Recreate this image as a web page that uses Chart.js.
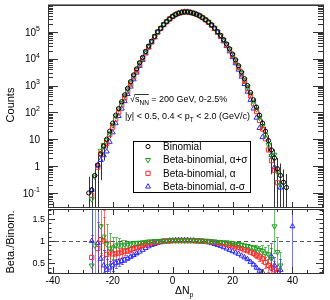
<!DOCTYPE html>
<html>
<head>
<meta charset="utf-8">
<script src="https://cdn.jsdelivr.net/npm/chart.js@4/dist/chart.umd.min.js"></script>
<style>
  html, body { margin: 0; padding: 0; background: #fff; }
  #wrap { position: relative; width: 330px; height: 300px; }
  canvas { position: absolute; left: 0; }
  #topChart { top: 0; }
  #ratioChart { top: 204px; }
</style>
</head>
<body>
<div id="wrap">
  <canvas id="topChart" width="330" height="212"></canvas>
  <canvas id="ratioChart" width="330" height="96"></canvas>
</div>
<script>
// Delta N_p bins
const nVals = [
  -28, -27, -26, -25, -24, -23, -22, -21, -20, -19,
  -18, -17, -16, -15, -14, -13, -12, -11, -10, -9,
  -8, -7, -6, -5, -4, -3, -2, -1, 0, 1,
  2, 3, 4, 5, 6, 7, 8, 9, 10, 11,
  12, 13, 14, 15, 16, 17, 18, 19, 20, 21,
  22, 23, 24, 25, 26, 27, 28, 29, 30, 31,
  32, 33, 34, 35, 36, 37, 38, 39, 40
];

// Binomial counts and their errors
const binomCounts = [
  0.1, 0.13, 0.45, 1.1, 2.8, 5.6, 10, 20, 40, 79,
  140, 250, 450, 790, 1400, 2500, 4200, 7100, 11200, 18600,
  29500, 44700, 67600, 100000, 135000, 186000, 240000, 302000, 372000, 437000,
  490000, 525000, 550000, 550000, 525000, 490000, 447000, 398000, 339000, 282000,
  229000, 182000, 138000, 102000, 74000, 51300, 35500, 23400, 14800, 9100,
  5500, 3200, 1800, 1000, 550, 295, 158, 79, 40, 20,
  8.9, 4.0, 2.0, 0.8, 0.45, 0.25, 0.16, null, null
];
const binomErr = [
  0.3, 0.35, 0.8, 1.5, 2.5, 4, 5.5, 9, 14, 20,
  28, 35, 45, 60, 0, 0, 0, 0, 0, 0,
  0, 0, 0, 0, 0, 0, 0, 0, 0, 0,
  0, 0, 0, 0, 0, 0, 0, 0, 0, 0,
  0, 0, 0, 0, 0, 0, 0, 0, 0, 0,
  0, 0, 0, 0, 0, 35, 28, 20, 14, 9,
  5.5, 3.5, 2.2, 1.2, 0.8, 0.5, 0.35, null, null
];

// Beta-binomial / Binomial ratios
const ratioPlus = [
  null, 0.45, 0.9, null, 1.33, 1.1, 0.93, 0.83, 0.85, 0.9,
  0.92, 0.9, 0.92, 0.92, 0.93, 0.95, 0.96, 0.96, 0.97, 0.98,
  0.99, 0.99, 1.0, 1.0, 1.0, 1.0, 1.0, 1.01, 1.01, 1.01,
  1.01, 1.01, 1.01, 1.01, 1.01, 1.01, 1.01, 1.0, 1.0, 1.0,
  1.0, 0.99, 0.99, 0.98, 0.98, 0.97, 0.97, 0.96, 0.95, 0.94,
  0.93, 0.92, 0.9, 0.89, 0.87, 0.85, 0.83, 0.8, 0.78, 0.72,
  0.7, 0.6, 1.33, 0.75, 0.45, null, null, null, null
];
const errPlus = [
  0, 1.5, 1.5, 0, 0.6, 0.45, 0.45, 0.35, 0.25, 0.2,
  0.15, 0.12, 0.1, 0.08, 0.06, 0.05, 0.04, 0.03, 0.02, 0.015,
  0, 0, 0, 0, 0, 0, 0, 0, 0, 0,
  0, 0, 0, 0, 0, 0, 0, 0, 0, 0,
  0, 0, 0, 0, 0, 0, 0, 0.01, 0.012, 0.015,
  0.02, 0.025, 0.03, 0.035, 0.045, 0.055, 0.07, 0.09, 0.12, 0.15,
  0.2, 0.25, 0.6, 0.35, 0.3, 0, 0, 0, 0
];
const ratioAlpha = [
  null, 0.63, null, 0.83, 1.03, 1.0, 0.7, 0.75, 0.71, 0.71,
  0.73, 0.75, 0.77, 0.78, 0.81, 0.83, 0.85, 0.88, 0.9, 0.92,
  0.94, 0.96, 0.97, 0.98, 0.99, 1.0, 1.0, 1.0, 1.01, 1.01,
  1.01, 1.01, 1.01, 1.01, 1.01, 1.01, 1.0, 1.0, 1.0, 0.99,
  0.99, 0.98, 0.97, 0.96, 0.95, 0.94, 0.92, 0.91, 0.89, 0.87,
  0.85, 0.83, 0.8, 0.78, 0.75, 0.72, 0.68, 0.64, 0.6, 0.52,
  0.45, 0.4, 0.35, 0.3, null, null, null, null, null
];
const errAlpha = [
  0, 0.5, 0, 0.6, 0.35, 0.7, 0.3, 0.25, 0.2, 0.15,
  0.12, 0.1, 0.08, 0.06, 0.05, 0.04, 0.03, 0.02, 0.015, 0,
  0, 0, 0, 0, 0, 0, 0, 0, 0, 0,
  0, 0, 0, 0, 0, 0, 0, 0, 0, 0,
  0, 0, 0, 0, 0, 0, 0, 0.01, 0.012, 0.015,
  0.02, 0.025, 0.03, 0.035, 0.04, 0.05, 0.06, 0.08, 0.1, 0.12,
  0.15, 0.2, 0.2, 0.15, 0, 0, 0, 0, 0
];
const ratioMinus = [
  null, 1.0, null, 0.95, 0.6, 0.45, 0.35, 0.4, 0.45, 0.5,
  0.52, 0.55, 0.58, 0.61, 0.65, 0.68, 0.72, 0.76, 0.8, 0.84,
  0.88, 0.91, 0.93, 0.96, 0.97, 0.99, 1.0, 1.01, 1.01, 1.02,
  1.02, 1.02, 1.02, 1.02, 1.01, 1.01, 1.0, 1.0, 0.99, 0.98,
  0.97, 0.95, 0.93, 0.91, 0.89, 0.86, 0.83, 0.8, 0.77, 0.74,
  0.71, 0.67, 0.63, 0.59, 0.53, 0.47, 0.4, 0.33, 0.3, null,
  null, 0.65, 0.45, null, 0.35, null, null, null, 1.33
];
const errMinus = [
  0, 1.5, 0, 1.5, 0.5, 0.35, 0.25, 0.15, 0.12, 0.1,
  0.08, 0.06, 0.05, 0.04, 0.03, 0.02, 0.015, 0, 0, 0,
  0, 0, 0, 0, 0, 0, 0, 0, 0, 0,
  0, 0, 0, 0, 0, 0, 0, 0, 0, 0,
  0, 0, 0, 0, 0, 0, 0, 0, 0, 0,
  0, 0, 0.01, 0.015, 0.02, 0.03, 0.04, 0.05, 0.08, 0,
  0, 0.3, 0.2, 0, 0.25, 0, 0, 0, 1.5
];

// axis ranges and tick labels
const xRange = [-41.6, 50.2];
const xTickValues = [-40, -20, 0, 20, 40];
const countsRange = [0.03, 1e6];
const countsTickValues = [0.1, 1, 10, 100, 1000, 10000, 100000];
const countsTickLabels = [['10', '-1'], ['1', ''], ['10', ''], ['10', '2'], ['10', '3'], ['10', '4'], ['10', '5']];
const ratioRange = [0.28, 1.72];
const ratioTickValues = [0.5, 1, 1.5];
const ratioTickLabels = ['0.5', '1', '1.5'];

const FONT = '"Liberation Sans", Arial, Helvetica, sans-serif';
const AXIS = '#333';

const series = [
  { label: 'Binomial', color: '#000000', style: 'circle', rot: 0, r: 2.1 },
  { label: 'Beta-binomial, \u03B1+\u03C3', color: '#1f9e1f', style: 'triangle', rot: 180, r: 2.9 },
  { label: 'Beta-binomial, \u03B1', color: '#ff2a2a', style: 'rect', rot: 0, r: 3.0 },
  { label: 'Beta-binomial, \u03B1-\u03C3', color: '#2a2aff', style: 'triangle', rot: 0, r: 2.9 }
];
series[1].ratio = ratioPlus;  series[1].err = errPlus;
series[2].ratio = ratioAlpha; series[2].err = errAlpha;
series[3].ratio = ratioMinus; series[3].err = errMinus;

function points(vals) {
  return nVals.map((n, i) => ({ x: n, y: vals[i] }));
}

function markerDataset(s, vals) {
  return {
    label: s.label,
    data: points(vals),
    showLine: false,
    pointStyle: s.style,
    pointRotation: s.rot,
    pointRadius: s.r,
    pointBorderWidth: 1,
    borderColor: s.color,
    pointBorderColor: s.color,
    backgroundColor: 'rgba(0,0,0,0)',
    pointBackgroundColor: 'rgba(0,0,0,0)'
  };
}

// beta-binomial counts: binomial counts times the ratio
function betaCounts(ratio) {
  return binomCounts.map((v, i) => (v != null && ratio[i] != null) ? v * ratio[i] : null);
}

function drawMarker(ctx, s, x, y) {
  ctx.save();
  ctx.strokeStyle = s.color;
  ctx.fillStyle = 'rgba(0,0,0,0)';
  ctx.lineWidth = 1;
  if (Chart.helpers && Chart.helpers.drawPoint) {
    Chart.helpers.drawPoint(ctx, { pointStyle: s.style, rotation: s.rot, radius: s.r, borderWidth: 1 }, x, y);
  } else {
    ctx.beginPath();
    ctx.arc(x, y, s.r, 0, Math.PI * 2);
    ctx.stroke();
  }
  ctx.restore();
}

function textWithSub(ctx, parts, x, y) {
  // parts: [text, kind] with kind 'n' normal, 's' subscript
  let cx = x;
  for (const [t, kind] of parts) {
    if (kind === 's') {
      ctx.font = '6.5px ' + FONT;
      ctx.fillText(t, cx, y + 3);
    } else {
      ctx.font = '9px ' + FONT;
      ctx.fillText(t, cx, y);
    }
    cx += ctx.measureText(t).width;
  }
  return cx;
}

function xMinorTicks(chart, yEdge, dir, majorLen, minorLen) {
  const { ctx, scales: { x } } = chart;
  ctx.beginPath();
  for (let v = -40; v <= 50; v += 5) {
    const px = Math.round(x.getPixelForValue(v)) + 0.5;
    const len = (v % 20 === 0) ? majorLen : minorLen;
    ctx.moveTo(px, yEdge);
    ctx.lineTo(px, yEdge + dir * len);
  }
  ctx.stroke();
}

const topPlugin = {
  id: 'topDecor',
  beforeDatasetsDraw(chart) {
    const { ctx, chartArea: a, scales: { x, y } } = chart;
    ctx.save();
    ctx.beginPath();
    ctx.rect(a.left, a.top, a.right - a.left, a.bottom - a.top);
    ctx.clip();
    ctx.strokeStyle = '#333';
    ctx.lineWidth = 1;
    ctx.beginPath();
    nVals.forEach((n, i) => {
      const v = binomCounts[i], e = binomErr[i];
      if (v == null || !e) return;
      const px = Math.round(x.getPixelForValue(n)) + 0.5;
      const lo = v - e > 0 ? y.getPixelForValue(v - e) : a.bottom;
      const hi = y.getPixelForValue(v + e);
      ctx.moveTo(px, lo);
      ctx.lineTo(px, hi);
    });
    ctx.stroke();
    ctx.restore();
  },
  afterDraw(chart) {
    const { ctx, chartArea: a, scales: { y } } = chart;
    ctx.save();
    ctx.strokeStyle = AXIS;
    ctx.lineWidth = 1;
    ctx.strokeRect(a.left + 0.5, a.top + 0.5, a.right - a.left, a.bottom - a.top);
    // slightly heavier top edge
    ctx.strokeStyle = '#888';
    ctx.beginPath();
    ctx.moveTo(a.left, a.top - 0.5); ctx.lineTo(a.right + 1, a.top - 0.5);
    ctx.stroke();
    ctx.strokeStyle = AXIS;

    // log ticks on both sides
    ctx.beginPath();
    for (let d = 0.01; d <= 1e6; d *= 10) {
      for (let k = 1; k < 10; k++) {
        const v = k * d;
        if (v < y.min || v > y.max * 1.001) continue;
        const py = Math.round(y.getPixelForValue(v)) + 0.5;
        const len = k === 1 ? 10 : 5;
        ctx.moveTo(a.left, py); ctx.lineTo(a.left + len, py);
        ctx.moveTo(a.right, py); ctx.lineTo(a.right - len, py);
      }
    }
    ctx.stroke();
    xMinorTicks(chart, a.bottom, -1, 5, 2.5);

    // tick labels
    ctx.fillStyle = '#000';
    ctx.textBaseline = 'middle';
    ctx.textAlign = 'left';
    countsTickValues.forEach((v, i) => {
      const [base, sup] = countsTickLabels[i];
      const py = y.getPixelForValue(v);
      ctx.font = '10px ' + FONT;
      const wb = ctx.measureText(base).width;
      ctx.font = '7px ' + FONT;
      const ws = sup ? ctx.measureText(sup).width : 0;
      const x0 = 40 - wb - ws;
      ctx.font = '10px ' + FONT;
      ctx.fillText(base, x0, py + 1);
      if (sup) {
        ctx.font = '7px ' + FONT;
        ctx.fillText(sup, x0 + wb, py - 3);
      }
    });

    // y title
    ctx.save();
    ctx.translate(11, 105);
    ctx.rotate(-Math.PI / 2);
    ctx.textAlign = 'center';
    ctx.font = '11px ' + FONT;
    ctx.fillText('Counts', 0, 0);
    ctx.restore();

    // annotation
    ctx.textAlign = 'left';
    ctx.font = '9px ' + FONT;
    const sx = 130;
    ctx.fillText('\u221A', sx, 100);
    const s0 = sx + ctx.measureText('\u221A').width;
    const s1 = textWithSub(ctx, [['s', 'n'], ['NN', 's']], s0, 100);
    ctx.beginPath();
    ctx.lineWidth = 0.8;
    ctx.strokeStyle = '#000';
    ctx.moveTo(s0 - 0.5, 94.5); ctx.lineTo(s1, 94.5);
    ctx.stroke();
    textWithSub(ctx, [[' = 200 GeV, 0-2.5%', 'n']], s1, 100);
    textWithSub(ctx, [['|y| < 0.5, 0.4 < p', 'n'], ['T', 's'], [' < 2.0 (GeV/c)', 'n']], 125, 117);

    // legend box
    ctx.lineWidth = 1;
    ctx.strokeStyle = '#000';
    ctx.fillStyle = '#fff';
    ctx.fillRect(133.5, 141.5, 117, 51);
    ctx.strokeRect(133.5, 141.5, 117, 51);
    ctx.fillStyle = '#000';
    ctx.font = '10px ' + FONT;
    const rowsY = [146.5, 160, 173.3, 186.6];
    series.forEach((s, i) => {
      drawMarker(ctx, s, 148, rowsY[i]);
      ctx.fillText(s.label, 163, rowsY[i] + 0.5);
    });
    ctx.restore();
  }
};

const ratioPlugin = {
  id: 'ratioDecor',
  beforeDatasetsDraw(chart) {
    const { ctx, chartArea: a, scales: { x, y } } = chart;
    ctx.save();
    ctx.beginPath();
    ctx.rect(a.left, a.top, a.right - a.left, a.bottom - a.top);
    ctx.clip();
    // reference line at 1
    ctx.strokeStyle = '#555';
    ctx.lineWidth = 1;
    ctx.setLineDash([4, 3]);
    ctx.beginPath();
    const p1 = Math.round(y.getPixelForValue(1)) + 0.5;
    ctx.moveTo(a.left, p1); ctx.lineTo(a.right, p1);
    ctx.stroke();
    ctx.setLineDash([]);
    // error bars
    series.slice(1).forEach(s => {
      ctx.strokeStyle = s.color;
      ctx.globalAlpha = 0.65;
      ctx.beginPath();
      nVals.forEach((n, i) => {
        const v = s.ratio[i], e = s.err[i];
        if (v == null || !e) return;
        const px = Math.round(x.getPixelForValue(n)) + 0.5;
        const lo = Math.round(y.getPixelForValue(v - e)) + 0.5;
        const hi = Math.round(y.getPixelForValue(v + e)) + 0.5;
        ctx.moveTo(px, lo); ctx.lineTo(px, hi);
        ctx.moveTo(px - 1.5, lo); ctx.lineTo(px + 1.5, lo);
        ctx.moveTo(px - 1.5, hi); ctx.lineTo(px + 1.5, hi);
      });
      ctx.stroke();
    });
    ctx.restore();
  },
  afterDraw(chart) {
    const { ctx, chartArea: a, scales: { y } } = chart;
    ctx.save();
    ctx.strokeStyle = AXIS;
    ctx.lineWidth = 1;
    ctx.strokeRect(a.left + 0.5, a.top + 0.5, a.right - a.left, a.bottom - a.top);
    ctx.beginPath();
    for (let k = 3; k <= 17; k++) {
      const v = k / 10;
      const py = Math.round(y.getPixelForValue(v)) + 0.5;
      const len = (k % 5 === 0) ? 7 : 3.5;
      ctx.moveTo(a.left, py); ctx.lineTo(a.left + len, py);
      ctx.moveTo(a.right, py); ctx.lineTo(a.right - len, py);
    }
    ctx.stroke();
    xMinorTicks(chart, a.top, 1, 6, 3);
    xMinorTicks(chart, a.bottom, -1, 6, 3);

    ctx.fillStyle = '#000';
    ctx.textBaseline = 'middle';
    ctx.textAlign = 'right';
    ctx.font = '9px ' + FONT;
    ratioTickValues.forEach((v, i) => {
      ctx.fillText(ratioTickLabels[i], 45, y.getPixelForValue(v) + 0.5);
    });

    // titles
    ctx.save();
    ctx.translate(11, 38);
    ctx.rotate(-Math.PI / 2);
    ctx.textAlign = 'center';
    ctx.font = '11px ' + FONT;
    ctx.fillText('Beta./Binom.', 0, 0);
    ctx.restore();

    ctx.textAlign = 'left';
    ctx.textBaseline = 'alphabetic';
    ctx.font = '10.5px ' + FONT;
    ctx.fillText('\u0394N', 175, 90);
    const w = ctx.measureText('\u0394N').width;
    ctx.font = '7px ' + FONT;
    ctx.fillText('p', 175 + w, 93);
    ctx.restore();
  }
};

// top panel: counts on a log scale
const topDatasets = [
  markerDataset(series[0], binomCounts),
  markerDataset(series[1], betaCounts(ratioPlus)),
  markerDataset(series[2], betaCounts(ratioAlpha)),
  markerDataset(series[3], betaCounts(ratioMinus))
];

new Chart(document.getElementById('topChart').getContext('2d'), {
  type: 'scatter',
  data: { datasets: topDatasets },
  options: {
    responsive: false,
    animation: false,
    layout: { padding: { left: 48, right: 7, top: 5, bottom: 4 } },
    plugins: { legend: { display: false }, tooltip: { enabled: false } },
    scales: {
      x: { type: 'linear', min: xRange[0], max: xRange[1], display: false },
      y: { type: 'logarithmic', min: countsRange[0], max: countsRange[1], display: false }
    }
  },
  plugins: [topPlugin]
});

// bottom panel: ratios
const ratioDatasets = [
  markerDataset(series[1], ratioPlus),
  markerDataset(series[2], ratioAlpha),
  markerDataset(series[3], ratioMinus)
];

new Chart(document.getElementById('ratioChart').getContext('2d'), {
  type: 'scatter',
  data: { datasets: ratioDatasets },
  options: {
    responsive: false,
    animation: false,
    layout: { padding: { left: 48, right: 7, top: 4, bottom: 0 } },
    plugins: { legend: { display: false }, tooltip: { enabled: false } },
    scales: {
      x: {
        type: 'linear',
        min: xRange[0],
        max: xRange[1],
        afterBuildTicks: (scale) => { scale.ticks = xTickValues.map(v => ({ value: v })); },
        afterFit: (scale) => { scale.height = 27; },
        grid: { display: false, drawTicks: false },
        border: { display: false },
        ticks: {
          autoSkip: false,
          maxRotation: 0,
          padding: 2,
          color: '#000',
          font: { family: FONT, size: 10 }
        }
      },
      y: { type: 'linear', min: ratioRange[0], max: ratioRange[1], display: false }
    }
  },
  plugins: [ratioPlugin]
});
</script>
</body>
</html>
